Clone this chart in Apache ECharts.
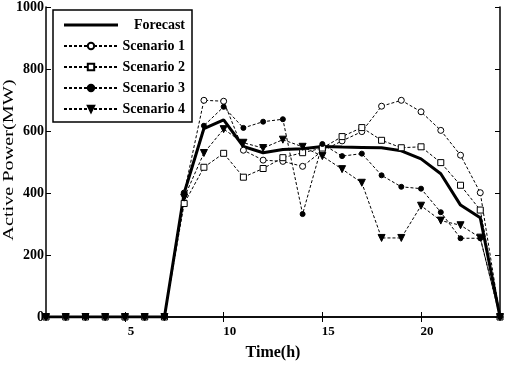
<!DOCTYPE html>
<html>
<head>
<meta charset="utf-8">
<script src="https://cdn.jsdelivr.net/npm/echarts@6/dist/echarts.min.js"></script>
<style>html,body{margin:0;padding:0;background:#fff}#c{width:505px;height:366px}</style>
</head>
<body>
<div id="c"></div>
<script>
var hours = [1,2,3,4,5,6,7,8,9,10,11,12,13,14,15,16,17,18,19,20,21,22,23,24];
var forecast = [0,0,0,0,0,0,0,400,608,636,550,530,540,543,550,548,547,546,536,510,462,361,320,0];
var scenario1 = [0,0,0,0,0,0,0,400,699,696,538,506,502,486,536,568,598,680,699,662,602,522,401,0];
var scenario2 = [0,0,0,0,0,0,0,366,483,528,451,479,514,530,545,582,611,570,546,549,498,425,345,0];
var scenario3 = [0,0,0,0,0,0,0,400,617,678,610,630,638,332,558,519,527,457,420,414,338,254,254,0];
var scenario4 = [0,0,0,0,0,0,0,385,529,606,562,545,572,549,519,477,433,255,255,359,311,296,256,0];
var xTicks = [5,10,15,20];
var seriesNames = ['Forecast','Scenario 1','Scenario 2','Scenario 3','Scenario 4'];

function pairs(v){ return hours.map(function(h,i){ return [h, v[i]]; }); }

var FONT = 'Liberation Serif';
var chart = echarts.init(document.getElementById('c'), null, {renderer:'canvas'});
var dash = {color:'#000', width:1, type:[3,2]};
function scen(name, data, symbol, size, fill, rot){
  return {
    name: name, type:'line', data: pairs(data),
    symbol: symbol, symbolSize: size, symbolRotate: rot || 0, showAllSymbol: true,
    lineStyle: dash,
    itemStyle: {color: fill, borderColor:'#000', borderWidth:1},
    emphasis:{disabled:true}
  };
}
var axisLineStyle = {lineStyle:{color:'#000', width:1.5}};
var tickStyle = {inside:true, length:5, lineStyle:{color:'#000', width:1}};
var legendData = seriesNames.map(function(n, i){
  if (i === 0) return {name:n, icon:'path://M0,0 L54,0 L54,3 L0,3 Z', itemStyle:{color:'#000', borderWidth:0}};
  return {name:n};
});
chart.setOption({
  animation:false,
  backgroundColor:'#fff',
  grid:{left:46, right:5, top:6, bottom:45, containLabel:false},
  legend:{
    orient:'vertical', left:53, top:10,
    data: legendData,
    itemWidth:54, itemHeight:8, itemGap:7, symbolKeepAspect:true,
    padding:[8,7,6,10],
    borderColor:'#000', borderWidth:1.5, backgroundColor:'#fff',
    formatter: function(n){ return '{a|' + n + '}'; },
    textStyle:{
      color:'#000',
      rich:{a:{width:62, align:'right', fontFamily:FONT, fontWeight:'bold', fontSize:14, color:'#000'}}
    }
  },
  xAxis:[{
    type:'value', position:'bottom', min:1, max:24,
    axisLine:axisLineStyle,
    axisTick:Object.assign({customValues:xTicks}, tickStyle),
    axisLabel:{customValues:xTicks, margin:8, padding:[0,0,0,12], fontFamily:FONT, fontWeight:'bold', fontSize:13, color:'#000'},
    splitLine:{show:false},
    name:'Time(h)', nameLocation:'middle', nameGap:28,
    nameTextStyle:{fontFamily:FONT, fontWeight:'bold', fontSize:16, color:'#000'}
  },{
    type:'value', position:'top', min:1, max:24,
    axisLine:axisLineStyle,
    axisTick:Object.assign({customValues:xTicks}, tickStyle),
    axisLabel:{show:false}, splitLine:{show:false}
  }],
  yAxis:[{
    type:'value', position:'left', min:0, max:1000, interval:200,
    axisLine:{show:true, lineStyle:{color:'#000', width:1.5}},
    axisTick:tickStyle,
    axisLabel:{margin:2, formatter:function(v){ return String(v); }, fontFamily:FONT, fontWeight:'bold', fontSize:14, color:'#000'},
    splitLine:{show:false}
  },{
    type:'value', position:'right', min:0, max:1000, interval:200,
    axisLine:{show:true, lineStyle:{color:'#000', width:1.5}},
    axisTick:tickStyle,
    axisLabel:{show:false}, splitLine:{show:false}
  }],
  graphic:[{
    type:'text', x:9, y:160, rotation:Math.PI/2, scaleX:1.35,
    style:{text:'Active Power(MW)', font:'15px "Liberation Serif"', fill:'#000', align:'center', verticalAlign:'middle'}
  }],
  series:[
    {name:'Forecast', type:'line', data:pairs(forecast), symbol:'none', z:3,
     lineStyle:{color:'#000', width:3}, itemStyle:{color:'#000'}, emphasis:{disabled:true}},
    scen('Scenario 1', scenario1, 'circle', 6, '#fff'),
    scen('Scenario 2', scenario2, 'rect', 6, '#fff'),
    scen('Scenario 3', scenario3, 'circle', 5, '#000'),
    scen('Scenario 4', scenario4, 'triangle', 7, '#000', 180)
  ]
});
</script>
</body>
</html>
